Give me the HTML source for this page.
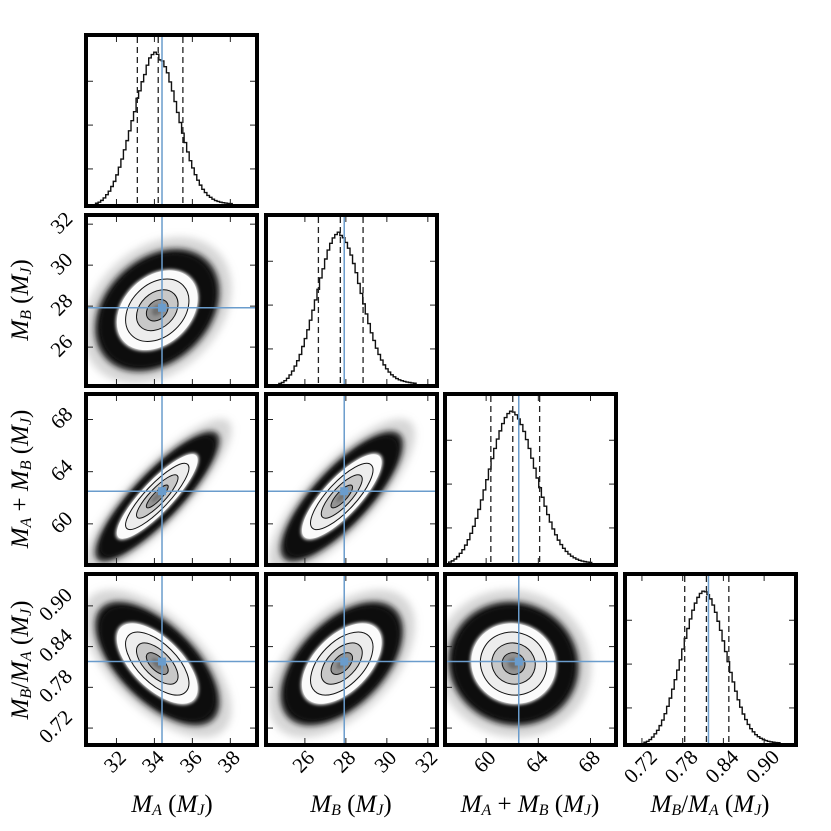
<!DOCTYPE html>
<html><head><meta charset="utf-8">
<style>
html,body{margin:0;padding:0;background:#fff;}
svg{display:block;}
text{font-family:"Liberation Serif","DejaVu Serif",serif;}
</style></head>
<body>
<svg id="fig" width="831" height="831" viewBox="0 0 831 831" xmlns="http://www.w3.org/2000/svg" font-family="Liberation Serif, serif">
<defs>
<filter id="blur4" x="-50%" y="-50%" width="200%" height="200%"><feGaussianBlur stdDeviation="4"/></filter>
<filter id="blur2" x="-50%" y="-50%" width="200%" height="200%"><feGaussianBlur stdDeviation="1.6"/></filter>
<filter id="blur1" x="-50%" y="-50%" width="200%" height="200%"><feGaussianBlur stdDeviation="3"/></filter>
</defs>
</svg>
<script>
// ---- data ----
const paramNames = ["A","B","S","R"];
const axisLo = [30.5, 24.2, 57.0, 0.698];
const axisHi = [39.3, 32.35, 69.8, 0.944];
const ticksA = [32,34,36,38];
const ticksB = [26,28,30,32];
const ticksS = [60,64,68];
const ticksR = [0.72,0.78,0.84,0.90];
const tickLabelsA = ["32","34","36","38"];
const tickLabelsB = ["26","28","30","32"];
const tickLabelsS = ["60","64","68"];
const tickLabelsR = ["0.72","0.78","0.84","0.90"];
const truths = [34.4, 27.92, 62.5, 0.818];
const quantA = [33.1, 34.2, 35.5];
const quantB = [26.66, 27.73, 28.84];
const quantS = [60.36, 62.04, 64.1];
const quantR = [0.783, 0.815, 0.848];
const histStart = [30.9, 24.73, 57.13, 0.723];
const histWidth = [0.1333, 0.124, 0.203, 0.00371];
const histA = [0.5,1.2,2.4,4.0,6.2,8.5,11.6,15.0,19.3,24.4,29.8,35.9,42.0,48.5,55.2,61.2,70.0,75.0,81.0,85.8,92.0,96.8,99.0,100.6,99.2,95.5,94.8,91.0,86.9,80.9,74.9,67.9,60.7,54.0,46.9,40.7,34.5,28.7,23.9,19.4,15.8,12.5,9.7,7.6,5.7,4.4,3.2,2.3,1.7,1.2,0.9,0.6,0.4,0.3];
const histB = [0.4,1.0,2.2,3.8,6.0,8.6,11.9,15.5,19.6,24.9,30.2,36.0,42.4,49.0,55.8,62.9,70.4,76.5,83.0,88.9,93.4,97.0,99.2,100.8,98.6,97.1,94.0,90.2,85.6,80.0,73.9,66.8,60.1,53.2,46.5,40.1,34.0,28.9,23.8,19.6,15.9,12.7,10.1,7.9,6.1,4.8,3.6,2.8,2.2,1.7,1.3,1.0,0.7,0.5];
const histS = [0.6,1.4,2.6,4.2,6.4,8.8,11.8,15.4,19.6,24.2,29.5,35.4,41.6,48.2,55.0,62.0,68.9,75.6,81.8,87.2,92.0,96.0,98.6,100.2,99.6,97.8,95.1,91.4,86.8,81.5,75.6,69.2,62.6,56.1,49.7,43.4,37.5,32.0,27.0,22.5,18.6,15.1,12.2,9.7,7.6,5.9,4.5,3.4,2.5,1.8,1.3,0.9,0.6,0.4];
const histR = [0.5,1.1,2.3,3.9,6.1,8.4,11.5,15.2,19.4,24.3,29.7,35.6,41.9,48.3,55.1,62.2,69.3,75.8,82.1,87.9,92.6,96.4,99.0,100.5,100.1,98.2,95.4,91.3,86.5,80.6,74.6,67.6,60.5,53.8,46.7,40.4,34.3,28.6,23.7,19.2,15.5,12.3,9.5,7.4,5.5,4.2,3.1,2.2,1.6,1.1,0.8,0.5,0.3,0.2];
const means = [34.15, 27.8, 62.1, 0.815];
const sds = [1.15, 1.05, 1.75, 0.032];
const corrAB = 0.3, corrAS = 0.86, corrBS = 0.8, corrAR = -0.62, corrBR = 0.52, corrSR = -0.05;

const ticks = [ticksA,ticksB,ticksS,ticksR];
const tickLabels = [tickLabelsA,tickLabelsB,tickLabelsS,tickLabelsR];
const quants = [quantA,quantB,quantS,quantR];
const hists = [histA,histB,histS,histR];
const corr = [[1,corrAB,corrAS,corrAR],[corrAB,1,corrBS,corrBR],[corrAS,corrBS,1,corrSR],[corrAR,corrBR,corrSR,1]];

// ---- layout ----
const colX = [84,264,443,623], rowY = [33,213,392,572], PS = 175, BW = 4;
const NS = "http://www.w3.org/2000/svg";
const svg = document.getElementById("fig");
function mk(tag, attrs, parent){ const e=document.createElementNS(NS,tag); for(const k in attrs) e.setAttribute(k,attrs[k]); (parent||svg).appendChild(e); return e; }
function inner(c,r){ return {x0:colX[c]+BW, x1:colX[c]+PS-BW, y0:rowY[r]+BW, y1:rowY[r]+PS-BW}; }
function sx(p,v,b){ return b.x0 + (v-axisLo[p])/(axisHi[p]-axisLo[p])*(b.x1-b.x0); }
function sy(p,v,b){ return b.y1 - (v-axisLo[p])/(axisHi[p]-axisLo[p])*(b.y1-b.y0); }
const BLUE = "#6a9ccc";
const FONT = "Liberation Serif, DejaVu Serif, serif";

for (let r=0;r<4;r++){
  for (let c=0;c<=r;c++){
    const b = inner(c,r);
    const g = mk("g",{});
    
    
    const cid = "clip"+r+c;
    const cp = mk("clipPath",{id:cid}, svg.querySelector("defs"));
    mk("rect",{x:b.x0,y:b.y0,width:b.x1-b.x0,height:b.y1-b.y0},cp);
    const cg = mk("g",{"clip-path":"url(#"+cid+")"},g);
    if (r===c){
      const h = hists[c]; const mx = Math.max(...h)*1.1;
      let d = "";
      for (let i=0;i<h.length;i++){
        const xa = sx(c,histStart[c]+i*histWidth[c],b), xb = sx(c,histStart[c]+(i+1)*histWidth[c],b);
        const y = b.y1 - h[i]/mx*(b.y1-b.y0);
        d += (i===0?"M"+xa+","+b.y1+" L"+xa+","+y:" L"+xa+","+y)+" L"+xb+","+y;
      }
      d += " L"+sx(c,histStart[c]+h.length*histWidth[c],b)+","+b.y1;
      const hp = mk("path",{d:d,fill:"none",stroke:"#111","stroke-width":1.4},cg);
      
      
      quants[c].forEach(q=>{
        const x=sx(c,q,b);
        const ql = mk("line",{x1:x,x2:x,y1:b.y0,y2:b.y1,stroke:"#222","stroke-width":1.3,"stroke-dasharray":"6,4"},cg);
        
        
      });
      const tx=sx(c,truths[c],b);
      mk("line",{x1:tx,x2:tx,y1:b.y0,y2:b.y1,stroke:BLUE,"stroke-width":1.5},cg);
    } else {
      const px=c, py=r;
      const kx=(b.x1-b.x0)/(axisHi[px]-axisLo[px]), ky=-(b.y1-b.y0)/(axisHi[py]-axisLo[py]);
      const a=Math.pow(sds[px]*kx,2), cc=Math.pow(sds[py]*ky,2), bb=corr[px][py]*sds[px]*sds[py]*kx*ky;
      const ang=0.5*Math.atan2(2*bb,a-cc)*180/Math.PI;
      const m=(a+cc)/2, s=Math.sqrt(Math.pow((a-cc)/2,2)+bb*bb);
      const l1=Math.sqrt(m+s), l2=Math.sqrt(Math.max(m-s,0.01));
      const cx=sx(px,means[px],b), cy=sy(py,means[py],b);
      const T="rotate("+ang+" "+cx+" "+cy+")";
      function ell(k,attrs){ const e=mk("ellipse",Object.assign({cx:cx,cy:cy,rx:k*l1,ry:k*l2,transform:T},attrs),cg); return e; }
      ell(3.4,{fill:"#999","fill-opacity":0.4,filter:"url(#blur4)"});
      ell(2.85,{fill:"#151515",filter:"url(#blur1)"});
      ell(2.6,{fill:"#0c0c0c",filter:"url(#blur2)"});
      ell(1.9,{fill:"#fff",filter:"url(#blur2)"});
      ell(1.85,{fill:"#fbfbfb"});
      ell(1.45,{fill:"#ededed",stroke:"#111","stroke-width":1});
      ell(0.95,{fill:"#c8c8c8",stroke:"#111","stroke-width":1});
      ell(0.5,{fill:"#949494",stroke:"#111","stroke-width":1});
      ell(0.25,{fill:"#6e6e6e",filter:"url(#blur2)"});
      const tx=sx(px,truths[px],b), ty=sy(py,truths[py],b);
      mk("line",{x1:tx,x2:tx,y1:b.y0,y2:b.y1,stroke:BLUE,"stroke-width":1.5},cg);
      mk("line",{x1:b.x0,x2:b.x1,y1:ty,y2:ty,stroke:BLUE,"stroke-width":1.5},cg);
      const tm = mk("rect",{x:tx-4,y:ty-4,width:8,height:8,fill:BLUE},cg);
      
      
    }
    const tg = mk("g",{stroke:"#222","stroke-width":1},g);
    ticks[c].forEach(v=>{ const x=sx(c,v,b);
      mk("line",{x1:x,x2:x,y1:b.y1,y2:b.y1-5},tg); mk("line",{x1:x,x2:x,y1:b.y0,y2:b.y0+5},tg); });
    if (r!==c){
      ticks[r].forEach(v=>{ const y=sy(r,v,b);
        mk("line",{x1:b.x0,x2:b.x0+5,y1:y,y2:y},tg); mk("line",{x1:b.x1,x2:b.x1-5,y1:y,y2:y},tg); });
    } else {
      [0.2,0.45,0.7].forEach(f=>{ const y=b.y1-f*(b.y1-b.y0)*1.05;
        mk("line",{x1:b.x0,x2:b.x0+5,y1:y,y2:y},tg); mk("line",{x1:b.x1,x2:b.x1-5,y1:y,y2:y},tg); });
    }
    const fr = mk("rect",{x:colX[c]+BW/2,y:rowY[r]+BW/2,width:PS-BW,height:PS-BW,fill:"none",stroke:"#000","stroke-width":BW},g);
    
    
    if (r===3){
      ticks[c].forEach((v,i)=>{ const x=sx(c,v,b); const lab=tickLabels[c][i];
        const yy = 763 + (lab.length>2?5:0);
        const t=mk("text",{x:x,y:yy,"font-family":FONT,"font-size":21,"text-anchor":"middle","dominant-baseline":"middle",transform:"rotate(-45 "+x+" "+yy+")"});
        t.textContent=lab;
        
        
      });
    }
    if (c===0 && r>0){
      ticks[r].forEach((v,i)=>{ const y=sy(r,v,b); const lab=tickLabels[r][i];
        const xx = lab.length>2?57:63;
        const t=mk("text",{x:xx,y:y,"font-family":FONT,"font-size":21,"text-anchor":"middle","dominant-baseline":"middle",transform:"rotate(-45 "+xx+" "+y+")"});
        t.textContent=lab;
        
        
      });
    }
  }
}
function mathLabel(x,y,rot,parts,name){
  const t=mk("text",{x:x,y:y,"font-family":FONT,"font-size":25,"text-anchor":"middle","dominant-baseline":"middle",transform:rot?"rotate(-90 "+x+" "+y+")":""});
  
  
  parts.forEach(p=>{ const s=mk("tspan",{},t); s.textContent=p[0];
    if(p[1]==="i") s.setAttribute("font-style","italic");
    if(p[1]==="sub"){ s.setAttribute("font-style","italic"); s.setAttribute("font-size","16"); s.setAttribute("dy","5"); }
    if(p[1]==="up"){ s.setAttribute("dy","-5"); }
  });
}
const lA=[["M","i"],["A","sub"]], lB=[["M","i"],["B","sub"]], lJ=[[" (","up"],["M","i"],["J","sub"],[")","up"]];
mathLabel(172,806,false,[...lA,...lJ],"x-axis-title-ma");
mathLabel(351,806,false,[...lB,...lJ],"x-axis-title-mb");
mathLabel(530,806,false,[...lA,[" + ","up"],["M","i"],["B","sub"],...lJ],"x-axis-title-sum");
mathLabel(710,806,false,[...lB,["/","up"],["M","i"],["A","sub"],...lJ],"x-axis-title-ratio");
mathLabel(22,300,true,[...lB,...lJ],"y-axis-title-mb");
mathLabel(22,479,true,[...lA,[" + ","up"],["M","i"],["B","sub"],...lJ],"y-axis-title-sum");
mathLabel(22,660,true,[...lB,["/","up"],["M","i"],["A","sub"],...lJ],"y-axis-title-ratio");
</script>
</body></html>
